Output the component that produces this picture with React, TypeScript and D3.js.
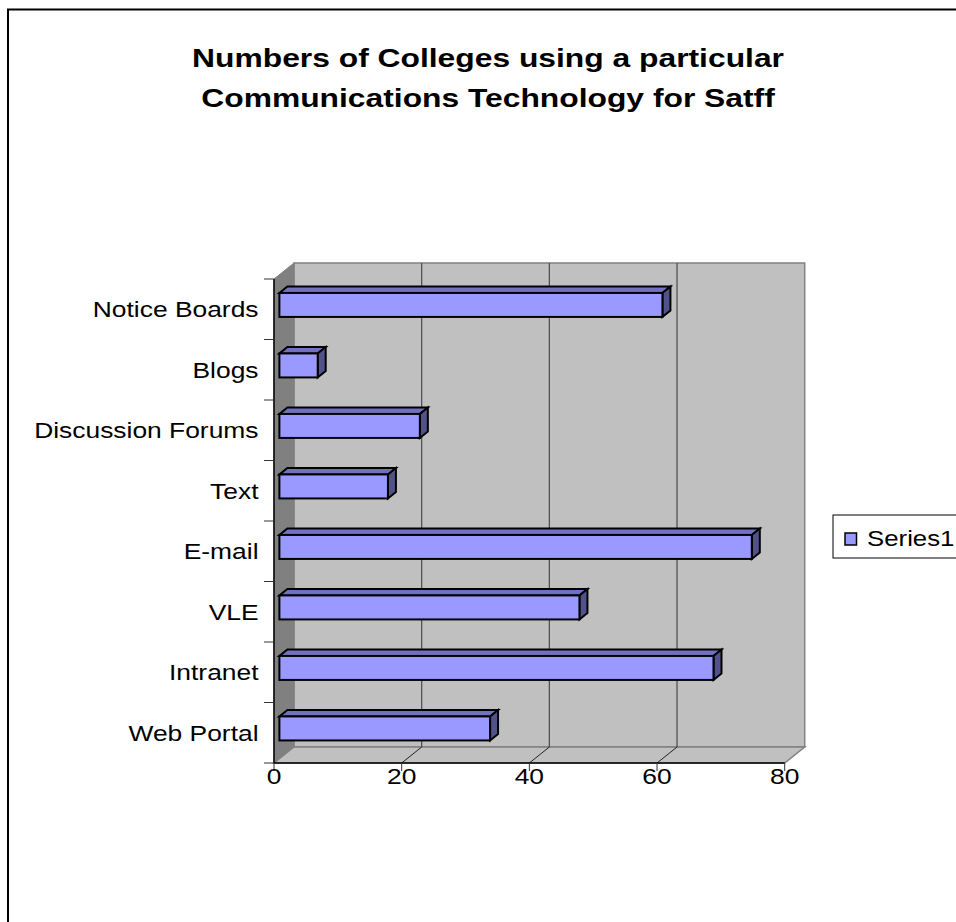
import React from "react";
import * as d3 from "d3";

const TITLE_LINES = ["Numbers of Colleges using a particular", "Communications Technology for Satff"];
const CATEGORIES = ["Web Portal", "Intranet", "VLE", "E-mail", "Text", "Discussion Forums", "Blogs", "Notice Boards"];
const SERIES1 = [33, 68, 47, 74, 17, 22, 6, 60];
const X_TICKS = [0, 20, 40, 60, 80];
const SERIES_NAME = "Series1";

const W = 956;
const H = 922;
const SX = 1.2; // horizontal stretch of the text
const FONT = "'Liberation Sans', Arial, sans-serif";

// 3-D geometry
const X0 = 274;
const X1 = 784.7;
const YTOP = 279;
const YBOT = 763;
const DX = 20;
const DY = -16;
const D_FRONT = 0.27;
const D_BACK = 0.67;
const BAR_H = 24;

const C_FRONT = "#9999FF";
const C_TOP = "#7171C2";
const C_SIDE = "#52528A";

function SText(props: {
  x: number; y: number; size: number; anchor?: string; weight?: string; children: React.ReactNode;
}) {
  const { x, y, size, anchor = "start", weight = "normal", children } = props;
  return (
    <text
      transform={`translate(${x},${y}) scale(${SX},1)`}
      textAnchor={anchor}
      fontFamily={FONT}
      fontSize={size}
      fontWeight={weight}
      fill="#000"
    >
      {children}
    </text>
  );
}

export default function App() {
  const x = d3.scaleLinear().domain([0, 80]).range([X0, X1]);
  const y = d3.scaleBand<string>().domain([...CATEGORIES].reverse()).range([YTOP, YBOT]).padding(0);
  const bw = y.bandwidth();

  const fdx = D_FRONT * DX;
  const fdy = D_FRONT * DY;
  const bdx = (D_BACK - D_FRONT) * DX;
  const bdy = (D_BACK - D_FRONT) * DY;

  const pts = (arr: number[][]) => arr.map((p) => p.join(",")).join(" ");

  const backL = X0 + DX;
  const backR = X1 + DX;
  const backT = YTOP + DY;
  const backB = YBOT + DY;

  return (
    <svg width={W} height={H} style={{ position: "absolute", left: 0, top: 0, background: "#fff" }}>
      {/* outer frame */}
      <rect x={8} y={9.5} width={W + 10} height={H + 10} fill="#fff" stroke="#000" strokeWidth={2} />

      {/* title */}
      {TITLE_LINES.map((t, i) => (
        <SText key={t} x={488} y={67 + i * 40} size={26.5} anchor="middle" weight="bold">
          {t}
        </SText>
      ))}

      {/* back wall */}
      <rect x={backL} y={backT} width={backR - backL} height={backB - backT} fill="#C0C0C0" stroke="#808080" strokeWidth={1.5} />
      {/* left wall */}
      <polygon points={pts([[X0, YTOP], [backL, backT], [backL, backB], [X0, YBOT]])} fill="#808080" stroke="#808080" strokeWidth={1} />
      {/* floor */}
      <polygon points={pts([[X0, YBOT], [backL, backB], [backR, backB], [X1, YBOT]])} fill="#C0C0C0" stroke="#808080" strokeWidth={1.5} />

      {/* gridlines */}
      {X_TICKS.filter((t) => t > 0 && t < 80).map((t) => (
        <g key={"g" + t}>
          <line x1={x(t) + DX} x2={x(t) + DX} y1={backT} y2={backB} stroke="#4a4a4a" strokeWidth={1.2} />
          <line x1={x(t) + DX} x2={x(t)} y1={backB} y2={YBOT} stroke="#222" strokeWidth={1} />
        </g>
      ))}

      {/* axes */}
      <line x1={X0} x2={X0} y1={YTOP} y2={YBOT} stroke="#000" strokeWidth={1.5} />
      <line x1={X0} x2={X1} y1={YBOT} y2={YBOT} stroke="#000" strokeWidth={1.5} />
      {d3.range(CATEGORIES.length + 1).map((i) => (
        <line key={"yt" + i} x1={X0 - 10} x2={X0} y1={YTOP + i * bw} y2={YTOP + i * bw} stroke="#333" strokeWidth={1} />
      ))}
      {X_TICKS.map((t) => (
        <g key={"xt" + t}>
          <line x1={x(t)} x2={x(t)} y1={YBOT} y2={YBOT + 8} stroke="#333" strokeWidth={1} />
          <SText x={x(t)} y={YBOT + 20.5} size={22} anchor="middle">
            {String(t)}
          </SText>
        </g>
      ))}

      {/* category labels */}
      {CATEGORIES.map((c) => (
        <SText key={"cl" + c} x={258.5} y={(y(c) as number) + bw / 2 + 8} size={22} anchor="end">
          {c}
        </SText>
      ))}

      {/* bars */}
      {CATEGORIES.map((c, i) => {
        const v = SERIES1[i];
        const xa = x(0) + fdx;
        const xb = x(v) + fdx;
        const cy = (y(c) as number) + bw / 2 + fdy;
        const yt = cy - BAR_H / 2;
        const yb = cy + BAR_H / 2;
        return (
          <g key={"b" + c} stroke="#000" strokeWidth={2} strokeLinejoin="miter">
            <polygon points={pts([[xa, yt], [xb, yt], [xb + bdx, yt + bdy], [xa + bdx, yt + bdy]])} fill={C_TOP} />
            <polygon points={pts([[xb, yt], [xb + bdx, yt + bdy], [xb + bdx, yb + bdy], [xb, yb]])} fill={C_SIDE} />
            <rect x={xa} y={yt} width={xb - xa} height={BAR_H} fill={C_FRONT} />
          </g>
        );
      })}

      {/* legend */}
      <rect x={833} y={515} width={140} height={43} fill="#fff" stroke="#000" strokeWidth={1} />
      <rect x={845} y={533} width={11.5} height={12} fill={C_FRONT} stroke="#000" strokeWidth={1.5} />
      <SText x={867} y={545.5} size={21.5}>
        {SERIES_NAME}
      </SText>
    </svg>
  );
}
